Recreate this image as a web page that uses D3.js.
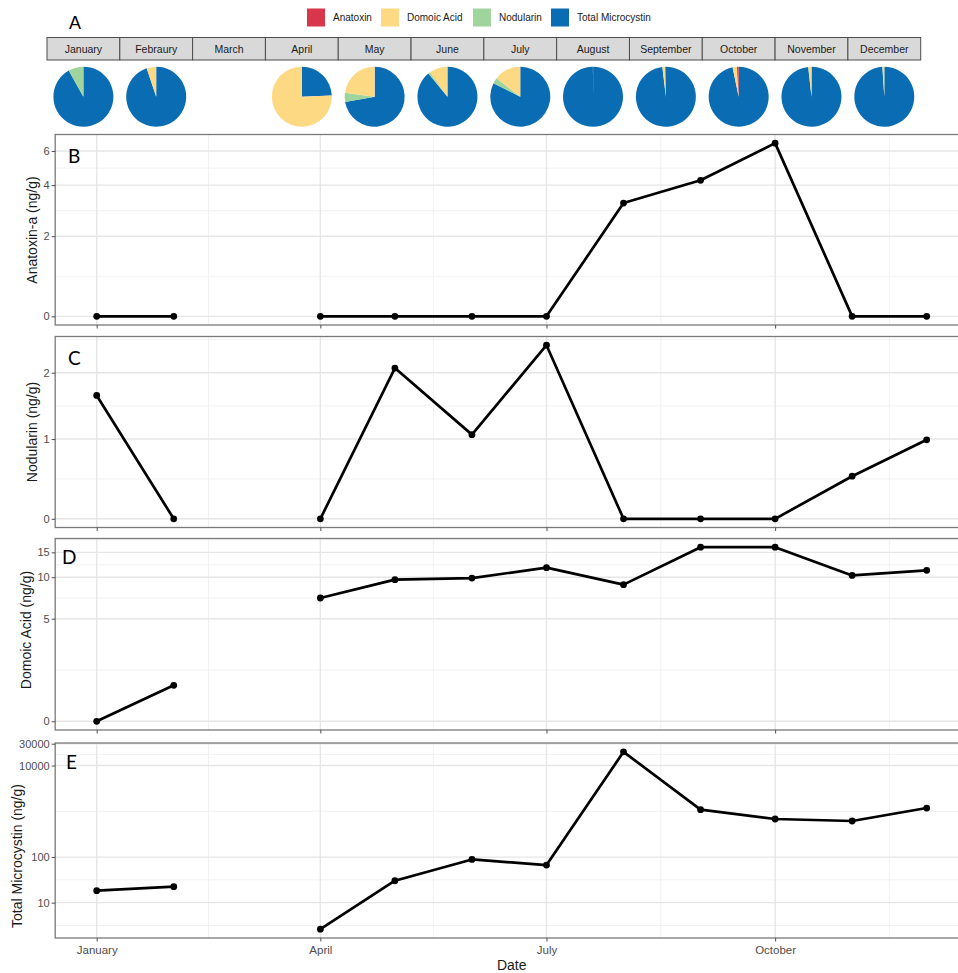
<!DOCTYPE html>
<html>
<head>
<meta charset="utf-8">
<script src="https://cdn.jsdelivr.net/npm/d3@7/dist/d3.min.js"></script>
<style>
  body { margin: 0; background: #ffffff; }
  text { font-family: "Liberation Sans", Arial, sans-serif; }
</style>
</head>
<body>
<svg id="chart" width="958" height="973"></svg>
<script>
// Monthly sampling (first of each month); March was not sampled.
const months = ["January", "Febraury", "March", "April", "May", "June",
                "July", "August", "September", "October", "November", "December"];
const sampleYear = 2019;

// Toxin concentrations, ng/g
const anatoxin    = [0, 0, null, 0, 0, 0, 0, 3.19, 4.24, 6.57, 0, 0];
const nodularin   = [1.63, 0, null, 0, 2.08, 1.06, 2.50, 0, 0, 0, 0.52, 0.99];
const domoicAcid  = [0, 1.22, null, 7.10, 9.61, 9.87, 11.7, 8.86, 16.3, 16.3, 10.3, 11.2];
const microcystin = [18.4, 22.5, null, 2.29, 30.4, 88.8, 66.8, 19900, 1088, 679, 614, 1179];

// Legend / pie categories
const toxinNames  = ["Anatoxin", "Domoic Acid", "Nodularin", "Total Microcystin"];
const toxinColors = ["#d8374b", "#fdd983", "#9fd59d", "#0a6db4"];

// Axis breaks
const anatoxinTicks    = [0, 2, 4, 6];
const nodularinTicks   = [0, 1, 2];
const domoicTicks      = [0, 5, 10, 15];
const microcystinTicks = [10, 100, 10000, 30000];
const dateTickMonths   = [0, 3, 6, 9];

const svg = d3.select("#chart");
const W = 958;

// pseudo-log transform (sigma = 1)
const tf = v => Math.asinh(v / 2);

const dates = months.map((m, i) => new Date(Date.UTC(sampleYear, i, 1)));

// ---------- Panel A: legend, month strips, pies ----------
svg.append("text").attr("x", 69).attr("y", 29)
  .attr("font-size", 18).attr("fill", "#000").text("A");

const legendX = [307, 381, 473, 551];
const legend = svg.append("g");
toxinNames.forEach((name, i) => {
  legend.append("rect").attr("x", legendX[i]).attr("y", 8.5)
    .attr("width", 18).attr("height", 18).attr("fill", toxinColors[i]);
  legend.append("text").attr("x", legendX[i] + 26).attr("y", 21)
    .attr("font-size", 10).attr("fill", "#1a1a1a").text(name);
});

const stripX = d3.scaleBand().domain(months).range([47, 920.7]).padding(0);
const strips = svg.append("g");
strips.selectAll("rect").data(months).join("rect")
  .attr("x", d => stripX(d)).attr("y", 37.5)
  .attr("width", stripX.bandwidth()).attr("height", 22.5)
  .attr("fill", "#d9d9d9").attr("stroke", "#4d4d4d").attr("stroke-width", 1);
strips.selectAll("text").data(months).join("text")
  .attr("x", d => stripX(d) + stripX.bandwidth() / 2).attr("y", 52.5)
  .attr("text-anchor", "middle").attr("font-size", 10.5).attr("fill", "#1a1a1a")
  .text(d => d);

// pies run clockwise from 12 o'clock: microcystin, nodularin, domoic acid, anatoxin
const pieOrder = [3, 2, 1, 0];
const pie = d3.pie().sort(null).value(d => d.v);
const arc = d3.arc().innerRadius(0).outerRadius(30);
months.forEach((m, i) => {
  if (microcystin[i] == null) return;
  const vals = [anatoxin[i], domoicAcid[i], nodularin[i], microcystin[i]];
  const parts = pieOrder.map(k => ({ k, v: vals[k] }));
  const g = svg.append("g")
    .attr("transform", `translate(${stripX(m) + stripX.bandwidth() / 2},96.7)`);
  g.selectAll("path").data(pie(parts)).join("path")
    .attr("d", arc).attr("fill", d => toxinColors[d.data.k]);
});

// ---------- Panels B–E ----------
const x = d3.scaleUtc()
  .domain([new Date(Date.UTC(sampleYear, 0, 1)) - 16.7 * 864e5,
           +new Date(Date.UTC(sampleYear, 11, 1)) + 16.7 * 864e5])
  .range([55.2, 968.2]);
const xMajor = dateTickMonths.map(i => dates[i]);
const xMinor = [];
{
  const t = xMajor.map(d => +d);
  const ext = [t[0] - (t[1] - t[0]), ...t, t[t.length - 1] + (t[t.length - 1] - t[t.length - 2])];
  for (let i = 0; i < ext.length - 1; i++) xMinor.push(new Date((ext[i] + ext[i + 1]) / 2));
}

const panels = [
  { tag: "B", title: "Anatoxin-a (ng/g)", values: anatoxin, ticks: anatoxinTicks,
    top: 134.5, bottom: 325, titleX: 32.5, titleY: 230, tagX: 68, tagY: 163 },
  { tag: "C", title: "Nodularin (ng/g)", values: nodularin, ticks: nodularinTicks,
    top: 336.5, bottom: 527.5, titleX: 32.5, titleY: 432, tagX: 68, tagY: 365 },
  { tag: "D", title: "Domoic Acid (ng/g)", values: domoicAcid, ticks: domoicTicks,
    top: 538.5, bottom: 730, titleX: 26, titleY: 630, tagX: 62, tagY: 564 },
  { tag: "E", title: "Total Microcystin (ng/g)", values: microcystin, ticks: microcystinTicks,
    top: 743, bottom: 938, titleX: 17.5, titleY: 856, tagX: 66, tagY: 769, xLabels: true }
];

const [xl, xr] = x.range();

panels.forEach(p => {
  const tv = p.values.filter(v => v != null).map(tf);
  const lo = d3.min(tv), hi = d3.max(tv), pad = (hi - lo) * 0.05;
  const yLin = d3.scaleLinear().domain([lo - pad, hi + pad]).range([p.bottom, p.top]);
  const y = v => yLin(tf(v));
  const g = svg.append("g");

  // grid: minor breaks halfway between majors in transformed space
  const tMaj = p.ticks.map(tf);
  const extY = [tMaj[0] - (tMaj[1] - tMaj[0]), ...tMaj,
                tMaj[tMaj.length - 1] + (tMaj[tMaj.length - 1] - tMaj[tMaj.length - 2])];
  const tMin = [];
  for (let i = 0; i < extY.length - 1; i++) {
    const m = (extY[i] + extY[i + 1]) / 2;
    if (m > yLin.domain()[0] && m < yLin.domain()[1]) tMin.push(m);
  }
  const grid = g.append("g");
  grid.selectAll(".hmin").data(tMin).join("line")
    .attr("x1", xl).attr("x2", xr).attr("y1", d => yLin(d)).attr("y2", d => yLin(d))
    .attr("stroke", "#f1f1f1").attr("stroke-width", 1);
  grid.selectAll(".vmin").data(xMinor.filter(d => x(d) > xl && x(d) < xr)).join("line")
    .attr("class", "vmin")
    .attr("x1", d => x(d)).attr("x2", d => x(d)).attr("y1", p.top).attr("y2", p.bottom)
    .attr("stroke", "#f1f1f1").attr("stroke-width", 1);
  grid.selectAll(".hmaj").data(tMaj).join("line")
    .attr("class", "hmaj")
    .attr("x1", xl).attr("x2", xr).attr("y1", d => yLin(d)).attr("y2", d => yLin(d))
    .attr("stroke", "#e6e6e6").attr("stroke-width", 1.4);
  grid.selectAll(".vmaj").data(xMajor).join("line")
    .attr("class", "vmaj")
    .attr("x1", d => x(d)).attr("x2", d => x(d)).attr("y1", p.top).attr("y2", p.bottom)
    .attr("stroke", "#e6e6e6").attr("stroke-width", 1.4);

  // data line (gap where no sample) and points
  const pts = p.values.map((v, i) => ({ d: dates[i], v }));
  const line = d3.line().defined(d => d.v != null).x(d => x(d.d)).y(d => y(d.v));
  g.append("path").datum(pts).attr("d", line)
    .attr("fill", "none").attr("stroke", "#000").attr("stroke-width", 2.7)
    .attr("stroke-linejoin", "round");
  g.selectAll("circle").data(pts.filter(d => d.v != null)).join("circle")
    .attr("cx", d => x(d.d)).attr("cy", d => y(d.v)).attr("r", 3.4).attr("fill", "#000");

  // panel border
  g.append("rect").attr("x", xl).attr("y", p.top)
    .attr("width", xr - xl).attr("height", p.bottom - p.top)
    .attr("fill", "none").attr("stroke", "#7a7a7a").attr("stroke-width", 1.3);

  // y axis
  const yAxis = d3.axisLeft(yLin).tickValues(tMaj)
    .tickFormat((d, i) => String(p.ticks[i])).tickSize(3.5).tickPadding(2);
  const ya = g.append("g").attr("transform", `translate(${xl},0)`).call(yAxis);
  ya.select(".domain").remove();
  ya.selectAll(".tick line").attr("stroke", "#4d4d4d");
  ya.selectAll(".tick text").attr("font-size", 11).attr("fill", "#4d4d4d")
    .attr("font-family", "'Liberation Sans', Arial, sans-serif");

  // x axis
  const xAxis = d3.axisBottom(x).tickValues(xMajor)
    .tickFormat(p.xLabels ? d3.utcFormat("%B") : () => "").tickSize(3.5).tickPadding(4);
  const xa = g.append("g").attr("transform", `translate(0,${p.bottom})`).call(xAxis);
  xa.select(".domain").remove();
  xa.selectAll(".tick line").attr("stroke", "#4d4d4d");
  xa.selectAll(".tick text").attr("font-size", 11.5).attr("fill", "#4d4d4d")
    .attr("font-family", "'Liberation Sans', Arial, sans-serif");

  // titles and panel tag
  g.append("text")
    .attr("transform", `translate(${p.titleX},${p.titleY}) rotate(-90)`)
    .attr("text-anchor", "middle").attr("dy", "0.35em")
    .attr("font-size", 14).attr("fill", "#1a1a1a").text(p.title);
  g.append("text").attr("x", p.tagX).attr("y", p.tagY)
    .attr("font-size", 19).attr("fill", "#000")
    .style("font-family", "Lato, 'Open Sans', sans-serif").text(p.tag);
});

svg.append("text").attr("x", (xl + xr) / 2).attr("y", 970)
  .attr("text-anchor", "middle").attr("font-size", 14).attr("fill", "#1a1a1a")
  .text("Date");
</script>
</body>
</html>
